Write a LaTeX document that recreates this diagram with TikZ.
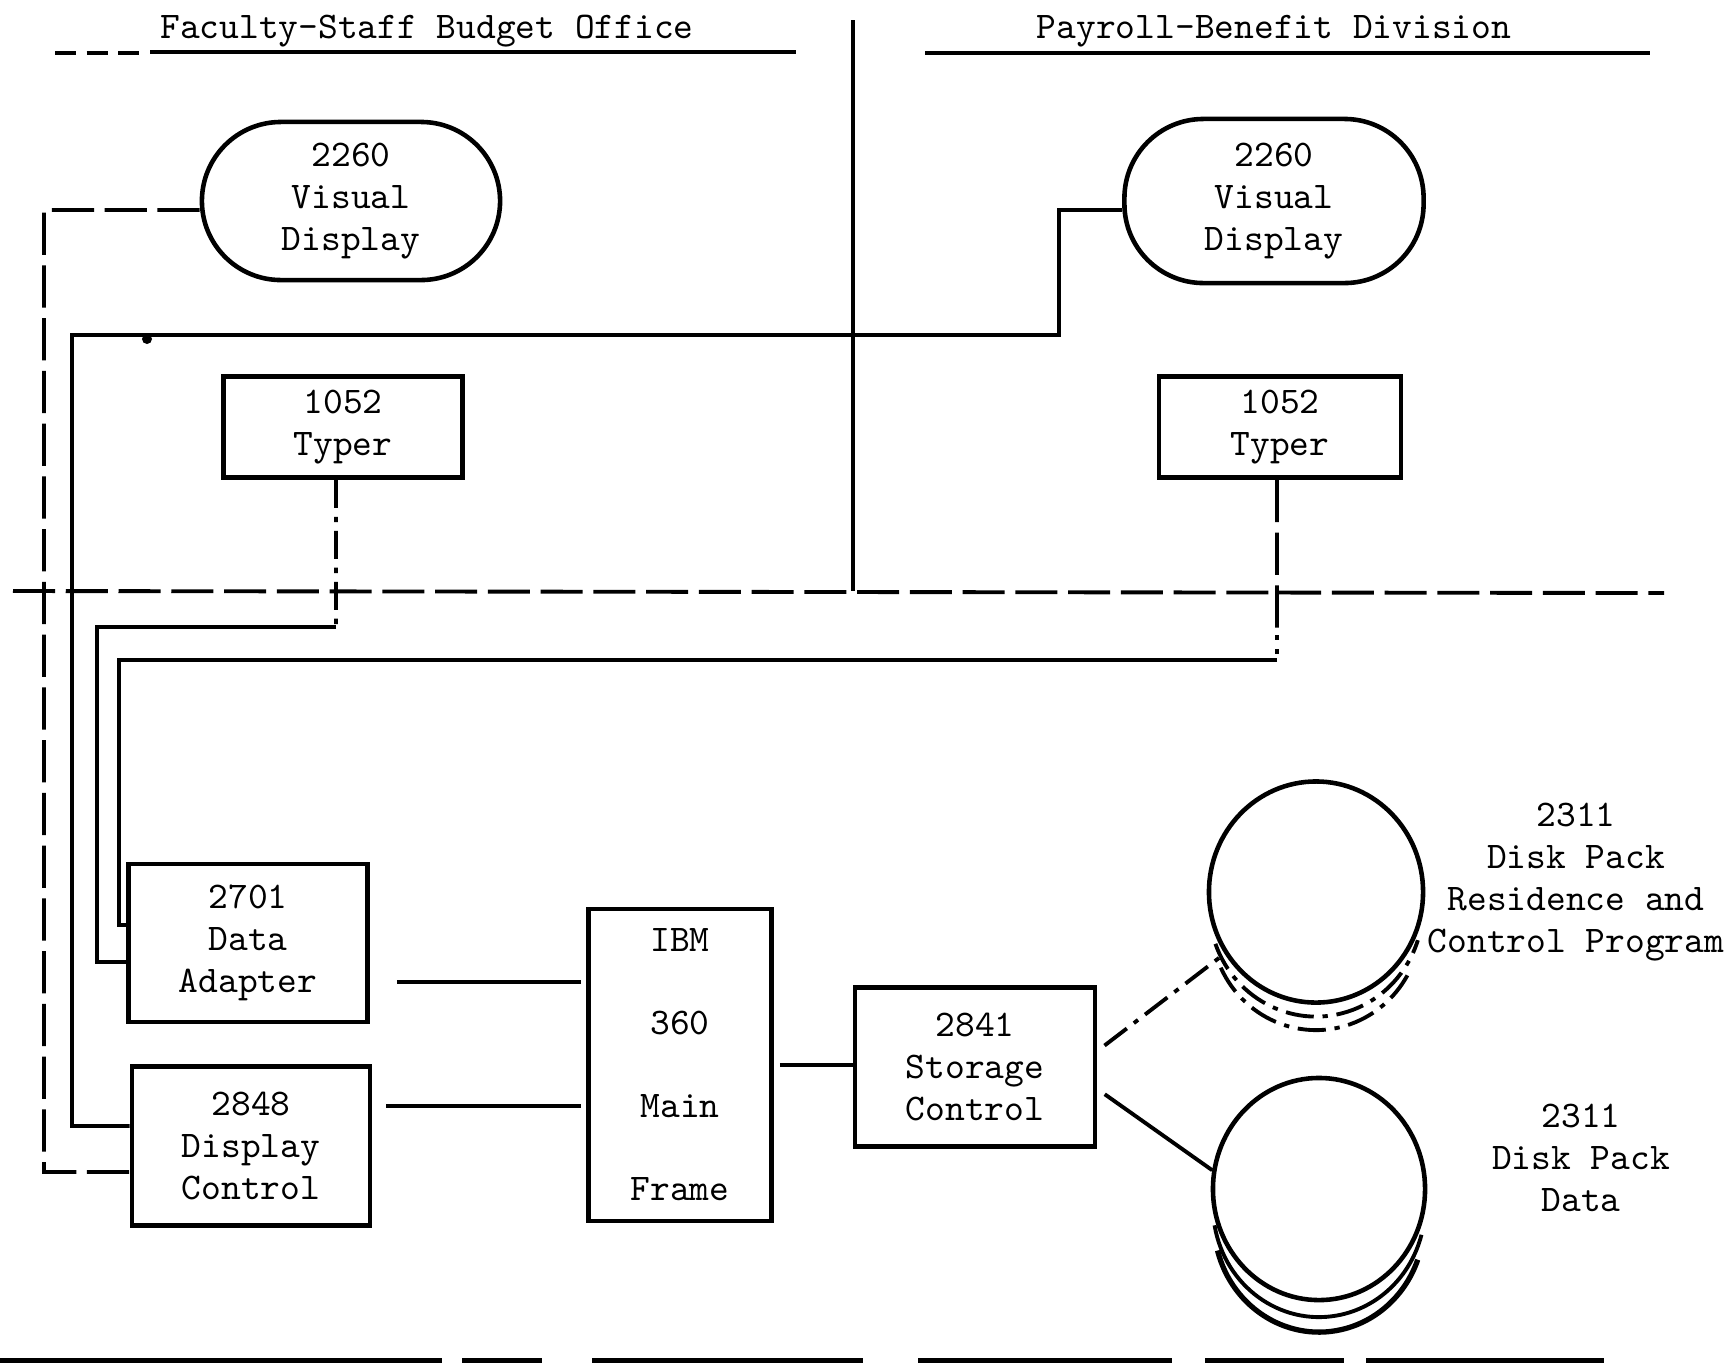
\documentclass[tikz,border=0pt]{standalone}
\usetikzlibrary{shapes.geometric,calc}
\begin{document}
\begin{tikzpicture}[x=0.01cm,y=-0.01cm,
  every node/.style={font=\fontsize{10.7}{12}\selectfont\ttfamily},
  blk/.style={draw, line width=1.3pt, align=center, inner sep=1pt},
  vdisp/.style={draw, line width=1.3pt, align=center, rounded corners=0.79cm, minimum width=2.98cm, minimum height=1.58cm},
  disk/.style={draw, ellipse, line width=1.3pt, inner sep=0pt},
  lbl/.style={align=center, inner sep=0pt},
  wire/.style={line width=1.1pt},
  dwire/.style={line width=1.1pt, dash pattern=on 12pt off 3pt},
  ddwire/.style={line width=1.1pt, dash pattern=on 8pt off 2.5pt on 1.5pt off 2.5pt},
  dotwire/.style={line width=1.1pt, dash pattern=on 1.5pt off 2.5pt}]
\useasboundingbox (0,0) rectangle (1734,1363);

% headers
\node[lbl] (hL) at (427,31) {Faculty-Staff Budget Office};
\node[lbl] (hR) at (1274,31) {Payroll-Benefit Division};
\draw[wire, dash pattern=on 6pt off 3pt] (55,53) -- (145,53);
\draw[wire] (150,52) -- (796,52);
\draw[wire] (925,53) -- (1650,53);

% dividers
\draw[wire] (853,20) -- (853,591);
\draw[dwire] (13,591) -- (1664,593);

% nodes
\node[vdisp] (vdL) at (351,201) {2260\\Visual\\Display};
\node[vdisp, minimum height=1.64cm, minimum width=2.99cm] (vdR) at (1274,201) {2260\\Visual\\Display};
\node[blk, minimum width=2.39cm, minimum height=1.01cm] (tyL) at (343,427) {1052\\Typer};
\node[blk, minimum width=2.42cm, minimum height=1.01cm] (tyR) at (1280,427) {1052\\Typer};
\node[blk, minimum width=2.39cm, minimum height=1.58cm] (da) at (248,943) {2701\\Data\\Adapter};
\node[blk, minimum width=2.38cm, minimum height=1.59cm] (dc) at (251,1146) {2848\\Display\\Control};
\node[blk, minimum width=1.83cm, minimum height=3.12cm, font=\fontsize{10.7}{23.6}\selectfont\ttfamily] (ibm) at (680,1065) {IBM\\360\\Main\\Frame};
\node[blk, minimum width=2.40cm, minimum height=1.59cm] (sc) at (975,1067) {2841\\Storage\\Control};
\node[disk, minimum width=2.14cm, minimum height=2.21cm] (d1) at (1316,892) {};
\node[disk, minimum width=2.12cm, minimum height=2.22cm] (d2) at (1319,1189) {};

% disk labels
\node[lbl] (l1) at (1576,882) {2311\\Disk Pack\\Residence and\\Control Program};
\node[lbl] (l2) at (1581,1158) {2311\\Disk Pack\\Data};

% stacked disk arcs
\draw[ddwire] ($(d1.center)+(0,-0.14cm)$) ++(200:1.07cm and 1.105cm) arc[start angle=200,end angle=342,x radius=1.07cm,y radius=1.105cm];
\draw[ddwire] ($(d1.center)+(0,-0.30cm)$) ++(205:1.05cm and 1.08cm) arc[start angle=205,end angle=335,x radius=1.05cm,y radius=1.08cm];
\draw[wire] ($(d2.center)+(0,-0.17cm)$) ++(190:1.06cm and 1.11cm) arc[start angle=190,end angle=345,x radius=1.06cm,y radius=1.11cm];
\draw[line width=1.5pt] ($(d2.center)+(0,-0.33cm)$) ++(195:1.05cm and 1.10cm) arc[start angle=195,end angle=340,x radius=1.05cm,y radius=1.10cm];

% coordinates for left buses
\coordinate (yA) at (0,1172);
\coordinate (yB) at (0,1126);
\coordinate (yC) at (0,962);
\coordinate (yD) at (0,925);

% left visual display -> display control
\draw[dwire] ([yshift=-0.09cm]vdL.west) -- (44,210) -- (44,1172) -- (dc.west |- yA);
% right visual display -> display control
\draw[wire] ([yshift=-0.09cm]vdR.west) -- (1059,210) -- (1059,335) -- (72,335) -- (72,1126) -- (dc.west |- yB);
\fill (147,339) circle[radius=0.05cm];
% left typer -> data adapter
\draw[ddwire] ([xshift=-0.07cm]tyL.south) -- (336,627);
\draw[wire] (336,627) -- (97,627) -- (97,962) -- (da.west |- yC);
% right typer -> data adapter
\draw[dwire] ([xshift=-0.03cm]tyR.south) -- (1277,635);
\draw[dotwire] (1277,635) -- (1277,660);
\draw[wire] (1277,660) -- (119,660) -- (119,925) -- (da.west |- yD);

% main links
\coordinate (p1) at ([yshift=-0.39cm]da.east);
\draw[wire, shorten <=0.27cm, shorten >=0.05cm] (p1) -- (p1 -| ibm.west);
\coordinate (p2) at ([yshift=0.40cm]dc.east);
\draw[wire, shorten <=0.14cm, shorten >=0.05cm] (p2) -- (p2 -| ibm.west);
\draw[wire, shorten <=0.06cm] (ibm.east) -- (ibm.east -| sc.west);
\draw[ddwire, shorten <=0.09cm] ([yshift=0.16cm]sc.east) -- (d1.214);
\draw[wire, shorten <=0.09cm] ([yshift=-0.22cm]sc.east) -- (d2.170);

% cut-off marks at the bottom edge
\foreach \a/\b in {0/442,462/542,592/863,918/1172,1205/1344,1366/1604}
  \fill (\a,1358) rectangle (\b,1363);
\end{tikzpicture}
\end{document}
